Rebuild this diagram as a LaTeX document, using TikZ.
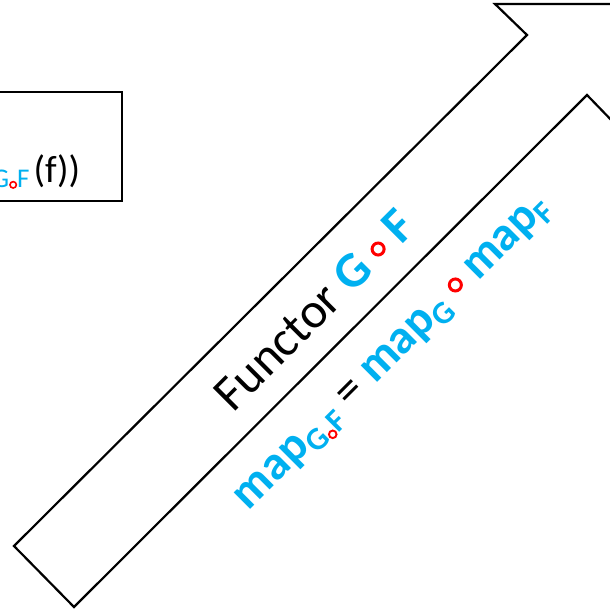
\documentclass[tikz,border=0pt]{standalone}
\usepackage{fontspec}
\setmainfont{Carlito}
\definecolor{mapblue}{RGB}{0,176,240}
\definecolor{ringred}{RGB}{255,0,0}
% red ring operator: radius, raise
\newcommand{\ringop}[2]{\raisebox{#2}{\tikz\draw[ringred, line width=0.5*#1] (0,0) circle[radius=#1];}}
\newcommand{\mapb}[1]{\textcolor{mapblue}{\bfseries #1}}
\newcommand{\subb}[1]{\raisebox{-0.18em}{\fontsize{32}{34}\selectfont #1}}

\begin{document}
\begin{tikzpicture}[x=1pt, y=-1pt, lbl/.style={inner sep=0pt, rotate=45}]
\useasboundingbox (0,0) rectangle (610,610);
\clip (0,0) rectangle (610,610);
% Composite functor arrow
\draw[line width=2.2pt, line join=miter] (14,546) -- (527,35) -- (495,4) -- (617,4) -- (617,126) -- (587,95) -- (74,607) -- cycle;
% Box on the left, cut by the edge
\draw[line width=2pt] (-20,92) rectangle (122,201);
\node[anchor=base east, inner sep=0pt, font=\fontsize{38}{40}\selectfont] (apply) at (80.5,182)
  {\raisebox{-0.14em}{\fontsize{27}{28}\selectfont\textcolor{mapblue}{G}\ringop{3.2pt}{-1.5pt}\textcolor{mapblue}{F}}\hspace{4pt}(f))};
% Labels along the arrow
\node[lbl, font=\fontsize{50}{56}\selectfont] (functor) at (314,310)
  {Functor \mapb{G} \ringop{6pt}{0.13em} \mapb{F}};
\node[lbl, font=\fontsize{48}{56}\selectfont] (mapeq) at (395,355)
  {\mapb{map\subb{G\ringop{3.8pt}{-0.04em}F}} = \mapb{map\subb{G}} \ringop{6pt}{0.13em} \mapb{map\subb{F}}};
\end{tikzpicture}
\end{document}
